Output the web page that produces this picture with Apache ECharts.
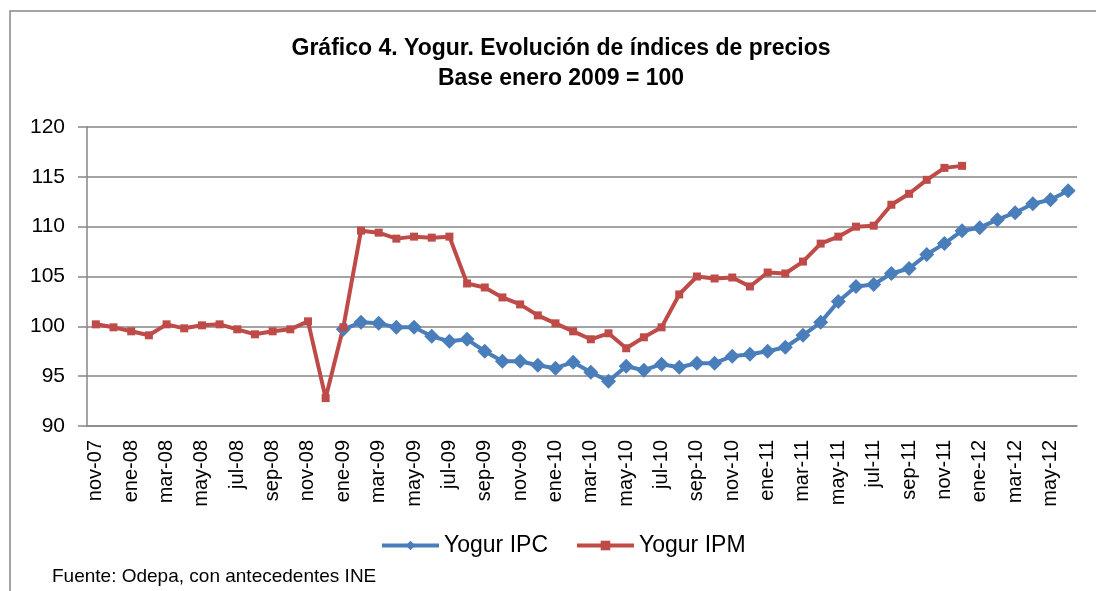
<!DOCTYPE html>
<html>
<head>
<meta charset="utf-8">
<script src="https://cdn.jsdelivr.net/npm/echarts@6/dist/echarts.min.js"></script>
<style>
html, body { margin: 0; padding: 0; background: #fff; }
#main { width: 1096px; height: 591px; }
</style>
</head>
<body>
<div id="main"></div>
<script>
var months = ['nov-07','dic-07',
	'ene-08','feb-08','mar-08','abr-08','may-08','jun-08','jul-08','ago-08','sep-08','oct-08','nov-08','dic-08',
	'ene-09','feb-09','mar-09','abr-09','may-09','jun-09','jul-09','ago-09','sep-09','oct-09','nov-09','dic-09',
	'ene-10','feb-10','mar-10','abr-10','may-10','jun-10','jul-10','ago-10','sep-10','oct-10','nov-10','dic-10',
	'ene-11','feb-11','mar-11','abr-11','may-11','jun-11','jul-11','ago-11','sep-11','oct-11','nov-11','dic-11',
	'ene-12','feb-12','mar-12','abr-12','may-12','jun-12'];

// Yogur IPC (desde ene-09)
var ipc = [null,null,
	null,null,null,null,null,null,null,null,null,null,null,null,
	99.7,100.4,100.3,99.9,99.9,99.0,98.5,98.7,97.5,96.5,96.5,96.1,
	95.8,96.4,95.4,94.5,96.0,95.6,96.2,95.9,96.3,96.3,97.0,97.2,
	97.5,97.9,99.1,100.4,102.5,104.0,104.2,105.3,105.8,107.2,108.3,109.6,
	109.9,110.7,111.4,112.3,112.7,113.6];

// Yogur IPM (hasta dic-11)
var ipm = [100.2,99.9,
	99.5,99.1,100.2,99.8,100.1,100.2,99.7,99.2,99.5,99.7,100.5,92.8,
	99.9,109.6,109.4,108.8,109.0,108.9,109.0,104.3,103.9,102.9,102.2,101.1,
	100.3,99.5,98.7,99.3,97.8,98.9,99.9,103.2,105.0,104.8,104.9,104.0,
	105.4,105.3,106.5,108.3,109.0,110.0,110.1,112.2,113.3,114.7,115.9,116.1,
	null,null,null,null,null,null];

var yTicks = { min: 90, max: 120, interval: 5 };

var font = "'Liberation Sans', Arial, sans-serif";

var myChart = echarts.init(document.getElementById('main'));

var option = {
	animation: false,
	textStyle: { fontFamily: font },
	title: {
		text: 'Gráfico 4. Yogur. Evolución de índices de precios\nBase enero 2009 = 100',
		left: 556,
		textAlign: 'center',
		top: 29,
		textStyle: { fontSize: 23, fontWeight: 'bold', color: '#000', lineHeight: 30, fontFamily: font }
	},
	graphic: [{
		type: 'rect',
		shape: { x: 10, y: 11, width: 1100, height: 600 },
		style: { fill: 'none', stroke: '#868686', lineWidth: 1.5 },
		silent: true
	}, {
		type: 'text',
		left: 52,
		top: 567,
		style: { text: 'Fuente: Odepa, con antecedentes INE', fontSize: 19, fill: '#000', fontFamily: font }
	}],
	legend: {
		left: 375,
		top: 529,
		itemWidth: 57,
		itemHeight: 12,
		itemGap: 27,
		lineStyle: { width: 4 },
		textStyle: { fontSize: 23, color: '#000', fontFamily: font, padding: [0, 0, 0, 0] },
		data: ['Yogur IPC', 'Yogur IPM']
	},
	grid: {
		left: 87,
		right: 19,
		top: 127,
		bottom: 165,
		containLabel: false
	},
	xAxis: {
		type: 'category',
		data: months,
		boundaryGap: true,
		axisLine: { lineStyle: { color: '#868686', width: 1.5 } },
		axisTick: { interval: 1, length: 6, lineStyle: { color: '#868686', width: 1.5 } },
		axisLabel: { interval: 1, rotate: 90, fontSize: 20, color: '#000', margin: 14, fontFamily: font }
	},
	yAxis: {
		type: 'value',
		min: yTicks.min,
		max: yTicks.max,
		interval: yTicks.interval,
		axisLine: { show: true, lineStyle: { color: '#868686', width: 1.5 } },
		axisTick: { show: true, length: 9, lineStyle: { color: '#868686', width: 1.5 } },
		axisLabel: { fontSize: 21, color: '#000', margin: 22, fontFamily: font },
		splitLine: { lineStyle: { color: '#868686', width: 1.5 } }
	},
	series: [{
		name: 'Yogur IPC',
		type: 'line',
		data: ipc,
		color: '#4A7EBB',
		symbol: 'diamond',
		symbolSize: 15,
		showAllSymbol: true,
		lineStyle: { width: 4, color: '#4A7EBB' },
		itemStyle: { color: '#4A7EBB' }
	}, {
		name: 'Yogur IPM',
		type: 'line',
		data: ipm,
		color: '#BE4B48',
		symbol: 'rect',
		symbolSize: 8,
		showAllSymbol: true,
		lineStyle: { width: 4, color: '#BE4B48' },
		itemStyle: { color: '#BE4B48' }
	}]
};
myChart.setOption(option);
</script>
</body>
</html>
